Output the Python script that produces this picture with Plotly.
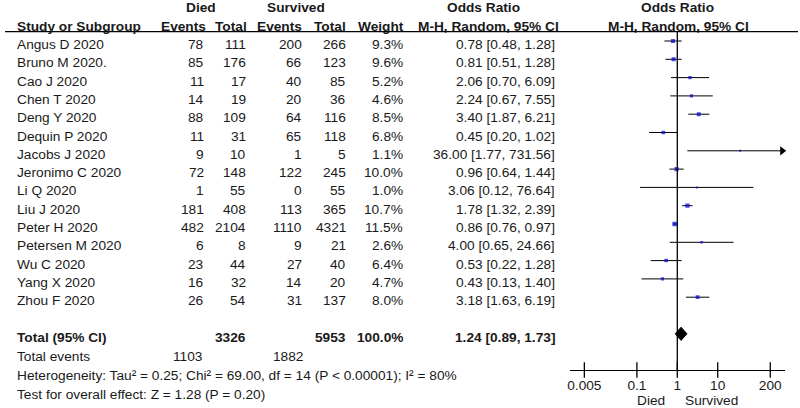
import math
import plotly.graph_objects as go

studies = ["Angus D 2020", "Bruno M 2020.", "Cao J 2020", "Chen T 2020", "Deng Y 2020",
           "Dequin P 2020", "Jacobs J 2020", "Jeronimo C 2020", "Li Q 2020", "Liu J 2020",
           "Peter H 2020", "Petersen M 2020", "Wu C 2020", "Yang X 2020", "Zhou F 2020"]
died_events = [78, 85, 11, 14, 88, 11, 9, 72, 1, 181, 482, 6, 23, 16, 26]
died_total = [111, 176, 17, 19, 109, 31, 10, 148, 55, 408, 2104, 8, 44, 32, 54]
surv_events = [200, 66, 40, 20, 64, 65, 1, 122, 0, 113, 1110, 9, 27, 14, 31]
surv_total = [266, 123, 85, 36, 116, 118, 5, 245, 55, 365, 4321, 21, 40, 20, 137]
weight = [9.3, 9.6, 5.2, 4.6, 8.5, 6.8, 1.1, 10.0, 1.0, 10.7, 11.5, 2.6, 6.4, 4.7, 8.0]
odds = [0.78, 0.81, 2.06, 2.24, 3.40, 0.45, 36.00, 0.96, 3.06, 1.78, 0.86, 4.00, 0.53, 0.43, 3.18]
ci_low = [0.48, 0.51, 0.70, 0.67, 1.87, 0.20, 1.77, 0.64, 0.12, 1.32, 0.76, 0.65, 0.22, 0.13, 1.63]
ci_high = [1.28, 1.28, 6.09, 7.55, 6.21, 1.02, 731.56, 1.44, 76.64, 2.39, 0.97, 24.66, 1.28, 1.40, 6.19]

total_died = 3326
total_surv = 5953
total_weight = "100.0%"
total_or = 1.24
total_low = 0.89
total_high = 1.73
events_died = 1103
events_surv = 1882
heterogeneity = "Heterogeneity: Tau² = 0.25; Chi² = 69.00, df = 14 (P &lt; 0.00001); I² = 80%"
overall = "Test for overall effect: Z = 1.28 (P = 0.20)"

tick_vals = [0.005, 0.1, 1, 10, 200]
tick_text = ["0.005", "0.1", "1", "10", "200"]

W, H = 800, 408
FONT = "Liberation Sans, Arial, sans-serif"
FS = 13.7
TXT = "#1a1a1a"
LOGMIN, LOGMAX = -2.6667, 2.6667
XMAX = 10 ** LOGMAX

# row -> pixel: 41 + 18.3*row
ROW_PX0, ROW_H = 41.0, 18.3
y_top = -ROW_PX0 / ROW_H
y_bot = (H - ROW_PX0) / ROW_H
axis_row = (370 - ROW_PX0) / ROW_H
rule_row = (31.7 - ROW_PX0) / ROW_H

fig = go.Figure()

# whiskers
wx, wy = [], []
for i in range(len(studies)):
    wx += [ci_low[i], min(ci_high[i], XMAX), None]
    wy += [i, i, None]
fig.add_trace(go.Scatter(x=wx, y=wy, mode="lines", line=dict(color="black", width=1),
                         hoverinfo="skip", showlegend=False))
# arrows for clipped CIs
ax_, ay_ = [], []
for i in range(len(studies)):
    if ci_high[i] > XMAX:
        ax_.append(10 ** (LOGMAX - 0.07))
        ay_.append(i)
fig.add_trace(go.Scatter(x=ax_, y=ay_, mode="markers",
                         marker=dict(symbol="triangle-right", size=8, color="black"),
                         cliponaxis=False, hoverinfo="skip", showlegend=False))
# squares
fig.add_trace(go.Scatter(x=odds, y=list(range(len(studies))), mode="markers",
                         marker=dict(symbol="square", color="#0000dd",
                                     size=[math.sqrt(w) + 1 for w in weight], line=dict(width=0)),
                         hoverinfo="skip", showlegend=False))
# diamond
total_row = 16
dh = 0.36
fig.add_trace(go.Scatter(x=[total_low, total_or, total_high, total_or, total_low],
                         y=[total_row, total_row - dh, total_row, total_row + dh, total_row],
                         mode="lines", fill="toself", fillcolor="black",
                         line=dict(color="black", width=1), hoverinfo="skip", showlegend=False))
# vertical line of no effect
fig.add_trace(go.Scatter(x=[1, 1], y=[rule_row, axis_row], mode="lines",
                         line=dict(color="black", width=1.3), hoverinfo="skip", showlegend=False))
# tick marks crossing axis
fig.add_trace(go.Scatter(x=tick_vals, y=[axis_row] * len(tick_vals), mode="markers",
                         marker=dict(symbol="line-ns-open", size=11, color="black",
                                     line=dict(color="black", width=1.3)),
                         cliponaxis=False, hoverinfo="skip", showlegend=False))

ann = []
def t(text, xpx, row, anchor="right", bold=False, shift=-3.5):
    if bold:
        text = "<b>" + text + "</b>"
    ann.append(dict(text=text, x=xpx / W, y=row, xref="paper", yref="y",
                    xanchor=anchor, yanchor="middle", yshift=shift, showarrow=False,
                    font=dict(family=FONT, size=FS, color=TXT)))

# headers
hr1 = (7.5 - 44.5) / ROW_H
hr2 = (26 - 44.5) / ROW_H
t("Died", 199, hr1, "center", True)
t("Survived", 295, hr1, "center", True)
t("Odds Ratio", 483, hr1, "center", True)
t("Odds Ratio", 677.5, hr1, "center", True)
t("Study or Subgroup", 13, hr2, "left", True)
t("Events", 207, hr2, "right", True)
t("Total", 248, hr2, "right", True)
t("Events", 303, hr2, "right", True)
t("Total", 347, hr2, "right", True)
t("Weight", 405, hr2, "right", True)
t("M-H, Random, 95% CI", 560, hr2, "right", True)
t("M-H, Random, 95% CI", 678, hr2, "center", True)

for i in range(len(studies)):
    t(studies[i], 13, i, "left")
    t(str(died_events[i]), 205, i)
    t(str(died_total[i]), 247, i)
    t(str(surv_events[i]), 303, i)
    t(str(surv_total[i]), 347, i)
    t(f"{weight[i]:.1f}%", 404, i)
    t(f"{odds[i]:.2f} [{ci_low[i]:.2f}, {ci_high[i]:.2f}]", 556, i)

t("Total (95% CI)", 13, 16, "left", True)
t(str(total_died), 247, 16, bold=True)
t(str(total_surv), 347, 16, bold=True)
t(total_weight, 404, 16, bold=True)
t(f"{total_or:.2f} [{total_low:.2f}, {total_high:.2f}]", 556, 16, bold=True)
t("Total events", 13, 17.05, "left")
t(str(events_died), 204, 17.05)
t(str(events_surv), 304, 17.05)
t(heterogeneity, 13, 18.1, "left")
t(overall, 13, 19.15, "left")

# favours labels
for txt, xpx, anc in [("Died", 667, "right"), ("Survived", 683, "left")]:
    ann.append(dict(text=txt, x=xpx / W, y=1 - 400 / H, xref="paper", yref="paper",
                    xanchor=anc, yanchor="middle", showarrow=False,
                    font=dict(family=FONT, size=FS, color=TXT)))

fig.update_layout(
    width=W, height=H, autosize=False,
    margin=dict(l=0, r=0, t=0, b=0),
    paper_bgcolor="white", plot_bgcolor="white",
    annotations=ann,
    shapes=[dict(type="line", xref="paper", yref="y", x0=3 / W, x1=798 / W,
                 y0=rule_row, y1=rule_row, line=dict(color="black", width=1.3))],
    xaxis=dict(type="log", range=[LOGMIN, LOGMAX], domain=[569 / W, 785 / W],
               anchor="free", position=1 - 370 / H, showline=True, linecolor="black",
               linewidth=1.3, tickvals=tick_vals, ticktext=tick_text, ticks="outside",
               ticklen=2, tickcolor="rgba(0,0,0,0)", showgrid=False, zeroline=False,
               tickfont=dict(family=FONT, size=FS, color=TXT)),
    yaxis=dict(range=[y_bot, y_top], domain=[0, 1], visible=False, showgrid=False,
               zeroline=False),
)

fig.write_html("out.html", config={"displayModeBar": False},
               post_script="document.body.style.margin='0';document.body.style.padding='0';")
